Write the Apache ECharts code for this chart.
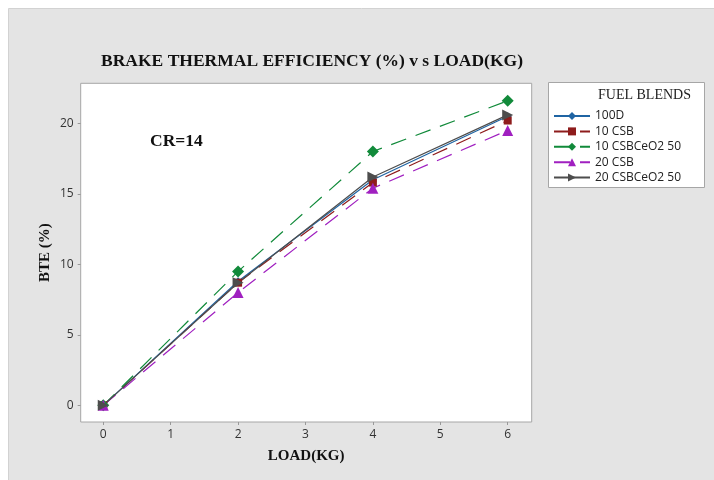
<!DOCTYPE html>
<html lang="en">
<head>
    <meta charset="UTF-8">
    <title>BTE vs Load</title>
    <script src="https://cdn.jsdelivr.net/npm/echarts@6/dist/echarts.min.js"></script>
    <style>
        html, body { margin: 0; padding: 0; background: #fff; }
        #main { width: 714px; height: 480px; }
    </style>
</head>
<body>
<div id="main"></div>
<script>
    // load (kg) and BTE (%) for each fuel blend
    var loads = [0, 2, 4, 6];
    var d100 = [0, 8.8, 16.0, 20.5];
    var csb10 = [0, 8.7, 15.8, 20.2];
    var csbCe10 = [0, 9.5, 18.0, 21.6];
    var csb20 = [0, 8.0, 15.4, 19.5];
    var csbCe20 = [0, 8.7, 16.2, 20.6];
    var xTicks = [0, 1, 2, 3, 4, 5, 6];
    var yTicks = [0, 5, 10, 15, 20];

    function pairs(ys) {
        return loads.map(function (x, i) { return [x, ys[i]]; });
    }

    function line(name, data, color, symbol, size, dashed, rotate) {
        return {
            name: name,
            type: 'line',
            data: pairs(data),
            symbol: symbol,
            symbolSize: size,
            symbolRotate: rotate || 0,
            itemStyle: {color: color},
            lineStyle: {color: color, width: 1.2, type: dashed ? [16, 10] : 'solid'},
            emphasis: {disabled: true}
        };
    }

    var serif = '"Liberation Serif", "DejaVu Serif", serif';
    var sans = '"Open Sans", "DejaVu Sans", sans-serif';

    var option = {
        backgroundColor: '#ffffff',
        animation: false,
        title: {
            text: 'BRAKE THERMAL EFFICIENCY (%) v s LOAD(KG)',
            left: 307, top: 47, textAlign: 'center',
            textStyle: {fontFamily: serif, fontSize: 17.5, fontWeight: 'bold', color: '#111'}
        },
        grid: {
            left: 80.7, top: 83.3, width: 451, height: 338.7,
            show: true, backgroundColor: '#ffffff', borderColor: '#a6a6a6', borderWidth: 1
        },
        xAxis: {
            type: 'value', min: -0.335, max: 6.356,
            name: 'LOAD(KG)', nameLocation: 'middle', nameGap: 27, nameMoveOverlap: false,
            nameTextStyle: {fontFamily: serif, fontSize: 15, fontWeight: 'bold', color: '#111'},
            axisLine: {show: false, onZero: false},
            splitLine: {show: false},
            axisTick: {customValues: xTicks, length: 3, lineStyle: {color: '#999'}},
            axisLabel: {customValues: xTicks, margin: 7, fontFamily: sans, fontSize: 12, color: '#333'}
        },
        yAxis: {
            type: 'value', min: -1.18, max: 22.84,
            name: 'BTE (%)', nameLocation: 'middle', nameGap: 28, nameMoveOverlap: false,
            nameTextStyle: {fontFamily: serif, fontSize: 15, fontWeight: 'bold', color: '#111'},
            axisLine: {show: false, onZero: false},
            splitLine: {show: false},
            axisTick: {customValues: yTicks, length: 3, lineStyle: {color: '#999'}},
            axisLabel: {customValues: yTicks, margin: 7, fontFamily: sans, fontSize: 12, color: '#333'}
        },
        legend: {
            orient: 'vertical', left: 548, top: 105,
            itemWidth: 36, itemHeight: 10, itemGap: 3.4,
            textStyle: {fontFamily: sans, fontSize: 12, color: '#222'}
        },
        graphic: [
            {type: 'rect', left: 8, top: 8, z: -100,
                shape: {width: 706, height: 472},
                style: {fill: '#e4e4e4', stroke: '#d2d2d2', lineWidth: 1}},
            {type: 'rect', left: 548, top: 82, z: -10,
                shape: {width: 156, height: 105},
                style: {fill: '#ffffff', stroke: '#a6a6a6', lineWidth: 1}},
            {type: 'text', left: 598, top: 88,
                style: {text: 'FUEL BLENDS', fontFamily: serif, fontSize: 14, fill: '#222'}},
            {type: 'text', left: 150, top: 132,
                style: {text: 'CR=14', fontFamily: serif, fontSize: 17.5, fontWeight: 'bold', fill: '#111'}}
        ],
        series: [
            line('100D', d100, '#1f64a3', 'diamond', 8, false),
            line('10 CSB', csb10, '#8e1c1c', 'rect', 8, true),
            line('10 CSBCeO2 50', csbCe10, '#118a3a', 'diamond', 12, true),
            line('20 CSB', csb20, '#a020c0', 'triangle', 11, true),
            line('20 CSBCeO2 50', csbCe20, '#4d4d4d', 'triangle', 11, false, -90)
        ]
    };

    var myChart = echarts.init(document.getElementById('main'));
    myChart.setOption(option);
</script>
</body>
</html>
